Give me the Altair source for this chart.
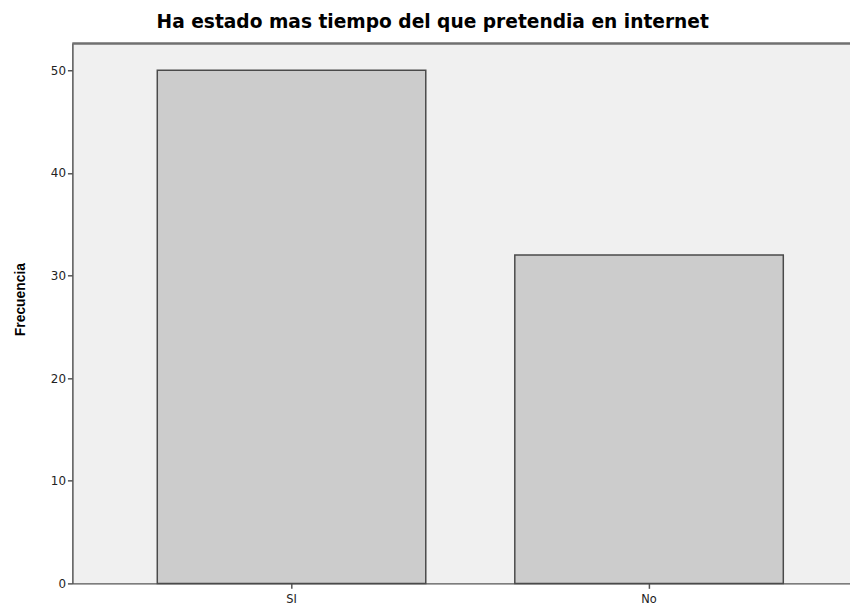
import altair as alt
import pandas as pd

categories = ["SI", "No"]
counts = [50, 32]
y_ticks = [0, 10, 20, 30, 40, 50]
title_text = "Ha estado mas tiempo del que pretendia en internet"
y_title = "Frecuencia"

df = pd.DataFrame({"respuesta": categories, "frecuencia": counts})
Y_MAX = 52.6
FONT = "Liberation Sans"
WIDE = "DejaVu Sans"

x_enc = alt.X(
    "respuesta:N",
    sort=categories,
    title=None,
    scale=alt.Scale(paddingInner=0.249, paddingOuter=0.212, align=0.56),
    axis=alt.Axis(
        labelAngle=0, labelFont=WIDE, labelFontSize=11.5, labelColor="#222222",
        tickColor="#555555", tickSize=5, tickWidth=1.5,
        domainColor="#555555", domainWidth=1.5, labelPadding=5,
    ),
)
y_enc = alt.Y(
    "frecuencia:Q",
    title=y_title,
    scale=alt.Scale(domain=[0, Y_MAX], nice=False),
    axis=alt.Axis(
        values=y_ticks, grid=False, labelFont=WIDE, labelFontSize=12,
        labelColor="#222222", tickColor="#555555", tickSize=5, tickWidth=1.5,
        domainColor="#555555", domainWidth=1.5, labelPadding=2,
        titleFont=FONT, titleFontSize=14, titleFontWeight="bold",
        titleColor="#000000", titlePadding=23, titleY=258,
    ),
)

bars = alt.Chart(df).mark_bar(
    color="#cccccc", stroke="#4a4a4a", strokeWidth=1.5
).encode(x=x_enc, y=y_enc)

top_line = alt.Chart(df).mark_rule(color="#707070", strokeWidth=2).encode(
    y=alt.datum(Y_MAX)
)

chart = alt.layer(bars, top_line).properties(
    width=785,
    height=545,
    autosize=alt.AutoSizeParams(type="none"),
    padding={"left": 65, "top": 33, "right": 0, "bottom": 22},
    title=alt.TitleParams(
        text=title_text, anchor="start", frame="group", dx=85, offset=11,
        font=WIDE, fontSize=18.8, fontWeight="bold", color="#000000",
    ),
    background="white",
).configure_view(fill="#f0f0f0", stroke=None)

chart.save("out.html", embed_options={"renderer": "svg", "actions": False})
